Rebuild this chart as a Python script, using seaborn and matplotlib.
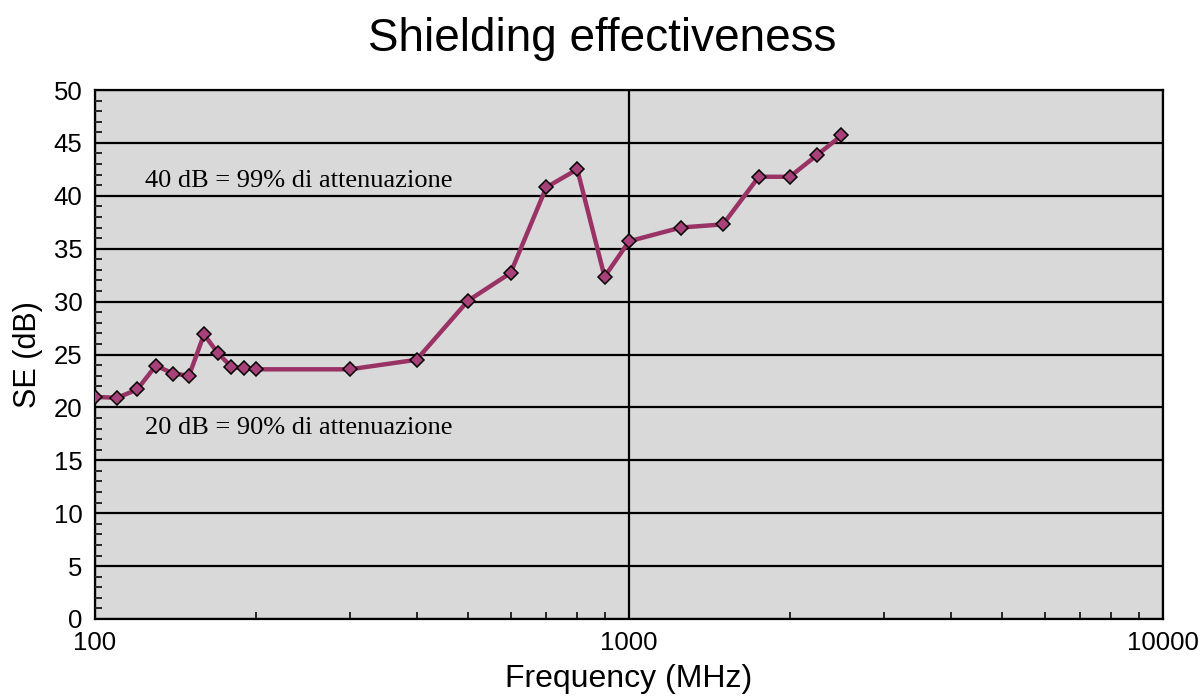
import matplotlib
matplotlib.use("Agg")
import matplotlib.pyplot as plt
import seaborn as sns
import pandas as pd
from matplotlib.ticker import FixedLocator, NullFormatter, MultipleLocator

freq_mhz = [100, 110, 120, 130, 140, 150, 160, 170, 180, 190, 200, 300,
            400, 500, 600, 700, 800, 900, 1000, 1250, 1500, 1750, 2000, 2250, 2500]
se_db = [21.0, 20.9, 21.7, 23.95, 23.2, 23.0, 26.9, 25.1, 23.85, 23.7, 23.6, 23.6,
         24.5, 30.1, 32.7, 40.8, 42.5, 32.35, 35.7, 37.0, 37.3, 41.8, 41.8, 43.85, 45.7]
x_ticks = [100, 1000, 10000]
x_tick_labels = ["100", "1000", "10000"]
y_ticks = list(range(0, 51, 5))
notes = ["40 dB = 99% di attenuazione", "20 dB = 90% di attenuazione"]
note_pos = [(124, 41.4), (124, 18.05)]

df = pd.DataFrame({"freq": freq_mhz, "se": se_db})

sns.set_theme(style="white")
plt.rcParams["font.family"] = ["Liberation Sans", "DejaVu Sans"]
plt.rcParams["text.color"] = "black"
plt.rcParams["axes.labelcolor"] = "black"

fig = plt.figure(figsize=(12.04, 6.98), dpi=100)
ax = fig.add_axes([95/1204, 1-619/698, (1163-95)/1204, (619-90)/698])
ax.set_facecolor("#d9d9d9")

sns.lineplot(data=df, x="freq", y="se", ax=ax, color="#993366", linewidth=3.2,
             marker="D", markersize=7, markerfacecolor="#a8407a",
             markeredgecolor="black", markeredgewidth=1.1)

ax.set_xscale("log")
ax.set_xlim(100, 10000)
ax.set_ylim(0, 50)

ax.xaxis.set_major_locator(FixedLocator(x_ticks))
ax.set_xticklabels(x_tick_labels)
minor = [m * d for d in (100, 1000) for m in range(2, 10)]
ax.xaxis.set_minor_locator(FixedLocator(minor))
ax.xaxis.set_minor_formatter(NullFormatter())
ax.set_yticks(y_ticks)
ax.yaxis.set_minor_locator(MultipleLocator(1))

ax.grid(True, which="major", axis="both", color="black", linewidth=1.6)
ax.set_axisbelow(False)
for ln in ax.get_lines():
    ln.set_zorder(3)

for s in ax.spines.values():
    s.set_visible(True)
    s.set_color("black")
    s.set_linewidth(1.6)

ax.tick_params(axis="both", which="major", direction="out", length=7, width=1.4,
               labelsize=18.5, colors="black", pad=2)
ax.tick_params(axis="x", which="minor", direction="in", length=5, width=1.4, bottom=True)
ax.tick_params(axis="y", which="minor", direction="in", length=5, width=1.4, left=True)

ax.set_xlabel("Frequency (MHz)", fontsize=23, labelpad=6, color="black")
ax.set_ylabel("SE (dB)", fontsize=22, labelpad=8, color="black")

for txt, (xx, yy) in zip(notes, note_pos):
    ax.text(xx, yy, txt, fontsize=19, family=["Liberation Serif", "DejaVu Serif"],
            color="black", va="center", ha="left", zorder=4)

fig.text(0.5, 1-39/698, "Shielding effectiveness", ha="center", va="center",
         fontsize=33, color="black")

fig.savefig("out.png", dpi=100)
